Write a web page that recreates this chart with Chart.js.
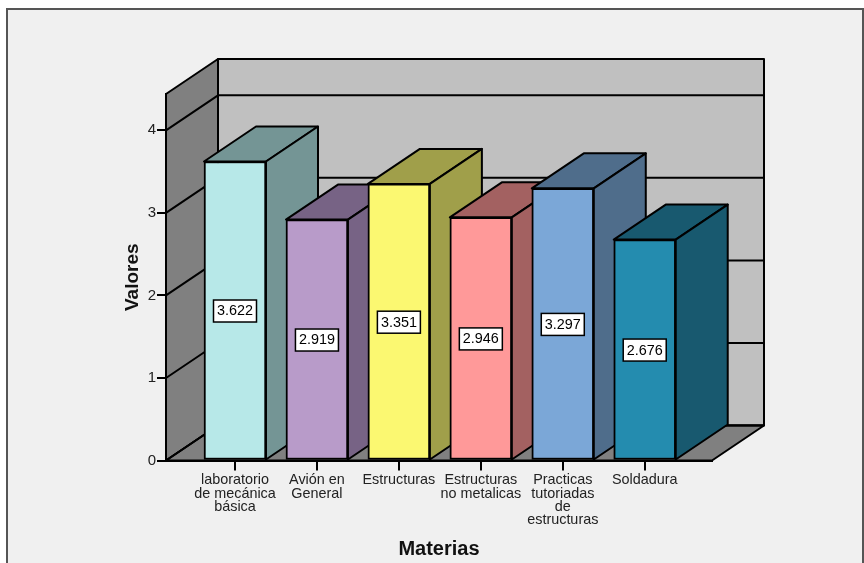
<!DOCTYPE html>
<html>
<head>
<meta charset="utf-8">
<style>
  html, body { margin: 0; padding: 0; background: #fff; }
  #wrap { width: 864px; height: 563px; }
</style>
<script src="https://cdn.jsdelivr.net/npm/chart.js@4"></script>
</head>
<body>
<div id="wrap"><canvas id="myChart" width="864" height="563"></canvas></div>
<script>
const categories = [
  ['laboratorio', 'de mecánica', 'básica'],
  ['Avión en', 'General'],
  ['Estructuras'],
  ['Estructuras', 'no metalicas'],
  ['Practicas', 'tutoriadas', 'de', 'estructuras'],
  ['Soldadura'],
];
const values = [3.622, 2.919, 3.351, 2.946, 3.297, 2.676];
const yTicks = [0, 1, 2, 3, 4];
const frontColors = ['#b7e8e8', '#b89bc9', '#fbf871', '#ff9999', '#7ba7d7', '#248caf'];
const sideColors = ['#749595', '#776385', '#a09f4a', '#a36161', '#4f6d8b', '#18596f'];

// depth of the fake 3D box, in pixels
const depthX = 52;
const depthY = 35;
const lineCol = '#000';

const path = (ctx, pts, fill) => {
  ctx.beginPath();
  pts.forEach((p, i) => (i ? ctx.lineTo(p[0], p[1]) : ctx.moveTo(p[0], p[1])));
  ctx.closePath();
  ctx.fillStyle = fill;
  ctx.fill();
  ctx.stroke();
};

const box3d = {
  id: 'box3d',
  beforeDraw(chart) {
    const ctx = chart.ctx;
    const { left, right, top, bottom } = chart.chartArea;
    const yScale = chart.scales.y;
    ctx.save();
    ctx.fillStyle = '#fff';
    ctx.fillRect(0, 0, chart.width, chart.height);
    ctx.fillStyle = '#f0f0f0';
    ctx.strokeStyle = '#555';
    ctx.lineWidth = 2;
    ctx.fillRect(7, 9, chart.width - 8, chart.height);
    ctx.strokeRect(7, 9, chart.width - 8, chart.height + 10);

    ctx.strokeStyle = lineCol;
    ctx.lineWidth = 2;
    ctx.lineJoin = 'round';
    // back wall, left wall, floor
    path(ctx, [[left + depthX, top - depthY], [right + depthX, top - depthY], [right + depthX, bottom - depthY], [left + depthX, bottom - depthY]], '#c0c0c0');
    path(ctx, [[left, top], [left + depthX, top - depthY], [left + depthX, bottom - depthY], [left, bottom]], '#808080');
    path(ctx, [[left, bottom], [left + depthX, bottom - depthY], [right + depthX, bottom - depthY], [right, bottom]], '#808080');
    // grid lines on the walls
    yTicks.forEach((t) => {
      const y = yScale.getPixelForValue(t);
      ctx.beginPath();
      ctx.moveTo(left, y);
      ctx.lineTo(left + depthX, y - depthY);
      ctx.lineTo(right + depthX, y - depthY);
      ctx.stroke();
    });
    ctx.restore();
  },
  beforeDatasetsDraw(chart) {
    const ctx = chart.ctx;
    ctx.save();
    ctx.strokeStyle = lineCol;
    ctx.lineWidth = 2;
    ctx.lineJoin = 'round';
    chart.getDatasetMeta(0).data.forEach((bar, i) => {
      const l = bar.x - bar.width / 2;
      const r = bar.x + bar.width / 2;
      path(ctx, [[l, bar.y], [r, bar.y], [r + depthX, bar.y - depthY], [l + depthX, bar.y - depthY]], sideColors[i]);
      path(ctx, [[r, bar.y], [r + depthX, bar.y - depthY], [r + depthX, bar.base - depthY], [r, bar.base]], sideColors[i]);
    });
    ctx.restore();
  },
  afterDatasetsDraw(chart) {
    const ctx = chart.ctx;
    ctx.save();
    ctx.font = '14.4px "Liberation Sans"';
    ctx.textAlign = 'center';
    ctx.textBaseline = 'middle';
    chart.getDatasetMeta(0).data.forEach((bar, i) => {
      const cy = (bar.y + bar.base) / 2 + 0.5;
      ctx.fillStyle = '#fff';
      ctx.strokeStyle = '#000';
      ctx.lineWidth = 1.5;
      ctx.fillRect(bar.x - 21.5, cy - 11, 43, 22);
      ctx.strokeRect(bar.x - 21.5, cy - 11, 43, 22);
      ctx.fillStyle = '#000';
      ctx.fillText(values[i].toFixed(3), bar.x, cy + 0.5);
    });
    ctx.restore();
  },
};

new Chart('myChart', {
  type: 'bar',
  data: {
    datasets: [
      {
        data: values.map((v, i) => ({ x: i, y: v })),
        backgroundColor: frontColors,
        borderColor: lineCol,
        borderWidth: 2,
        borderSkipped: false,
        barThickness: 62,
      },
    ],
  },
  plugins: [box3d],
  options: {
    responsive: false,
    animation: false,
    layout: { padding: { left: 0, right: 152, top: 94, bottom: 0 } },
    plugins: { legend: { display: false }, tooltip: { enabled: false } },
    scales: {
      x: {
        type: 'linear',
        offset: false,
        min: -0.842,
        max: 5.821,
        afterBuildTicks: (s) => { s.ticks = categories.map((c, i) => ({ value: i })); },
        afterFit: (s) => { s.height = 102.5; },
        grid: { offset: false, drawOnChartArea: false, color: lineCol, lineWidth: 2, tickLength: 10 },
        border: { color: lineCol, width: 2 },
        ticks: {
          autoSkip: false,
          maxRotation: 0,
          minRotation: 0,
          padding: 3,
          color: '#222',
          font: { family: '"Liberation Sans"', size: 14.4, lineHeight: '13.4px' },
          callback: (v) => categories[v],
        },
        title: {
          display: true,
          text: 'Materias',
          color: '#111',
          font: { family: '"Liberation Sans"', size: 20, weight: 'bold' },
          padding: { top: 0, bottom: 2 },
        },
      },
      y: {
        min: 0,
        max: 4.44,
        afterBuildTicks: (s) => { s.ticks = yTicks.map((t) => ({ value: t })); },
        afterFit: (s) => { s.width = 166; },
        grid: { drawOnChartArea: false, color: lineCol, lineWidth: 2, tickLength: 9 },
        border: { color: lineCol, width: 2 },
        ticks: {
          padding: 1,
          color: '#222',
          font: { family: '"Liberation Sans"', size: 15 },
        },
        title: {
          display: true,
          text: 'Valores',
          color: '#111',
          font: { family: '"Liberation Sans"', size: 19, weight: 'bold' },
          padding: { top: 121, bottom: 0 },
        },
      },
    },
  },
});
</script>
</body>
</html>
